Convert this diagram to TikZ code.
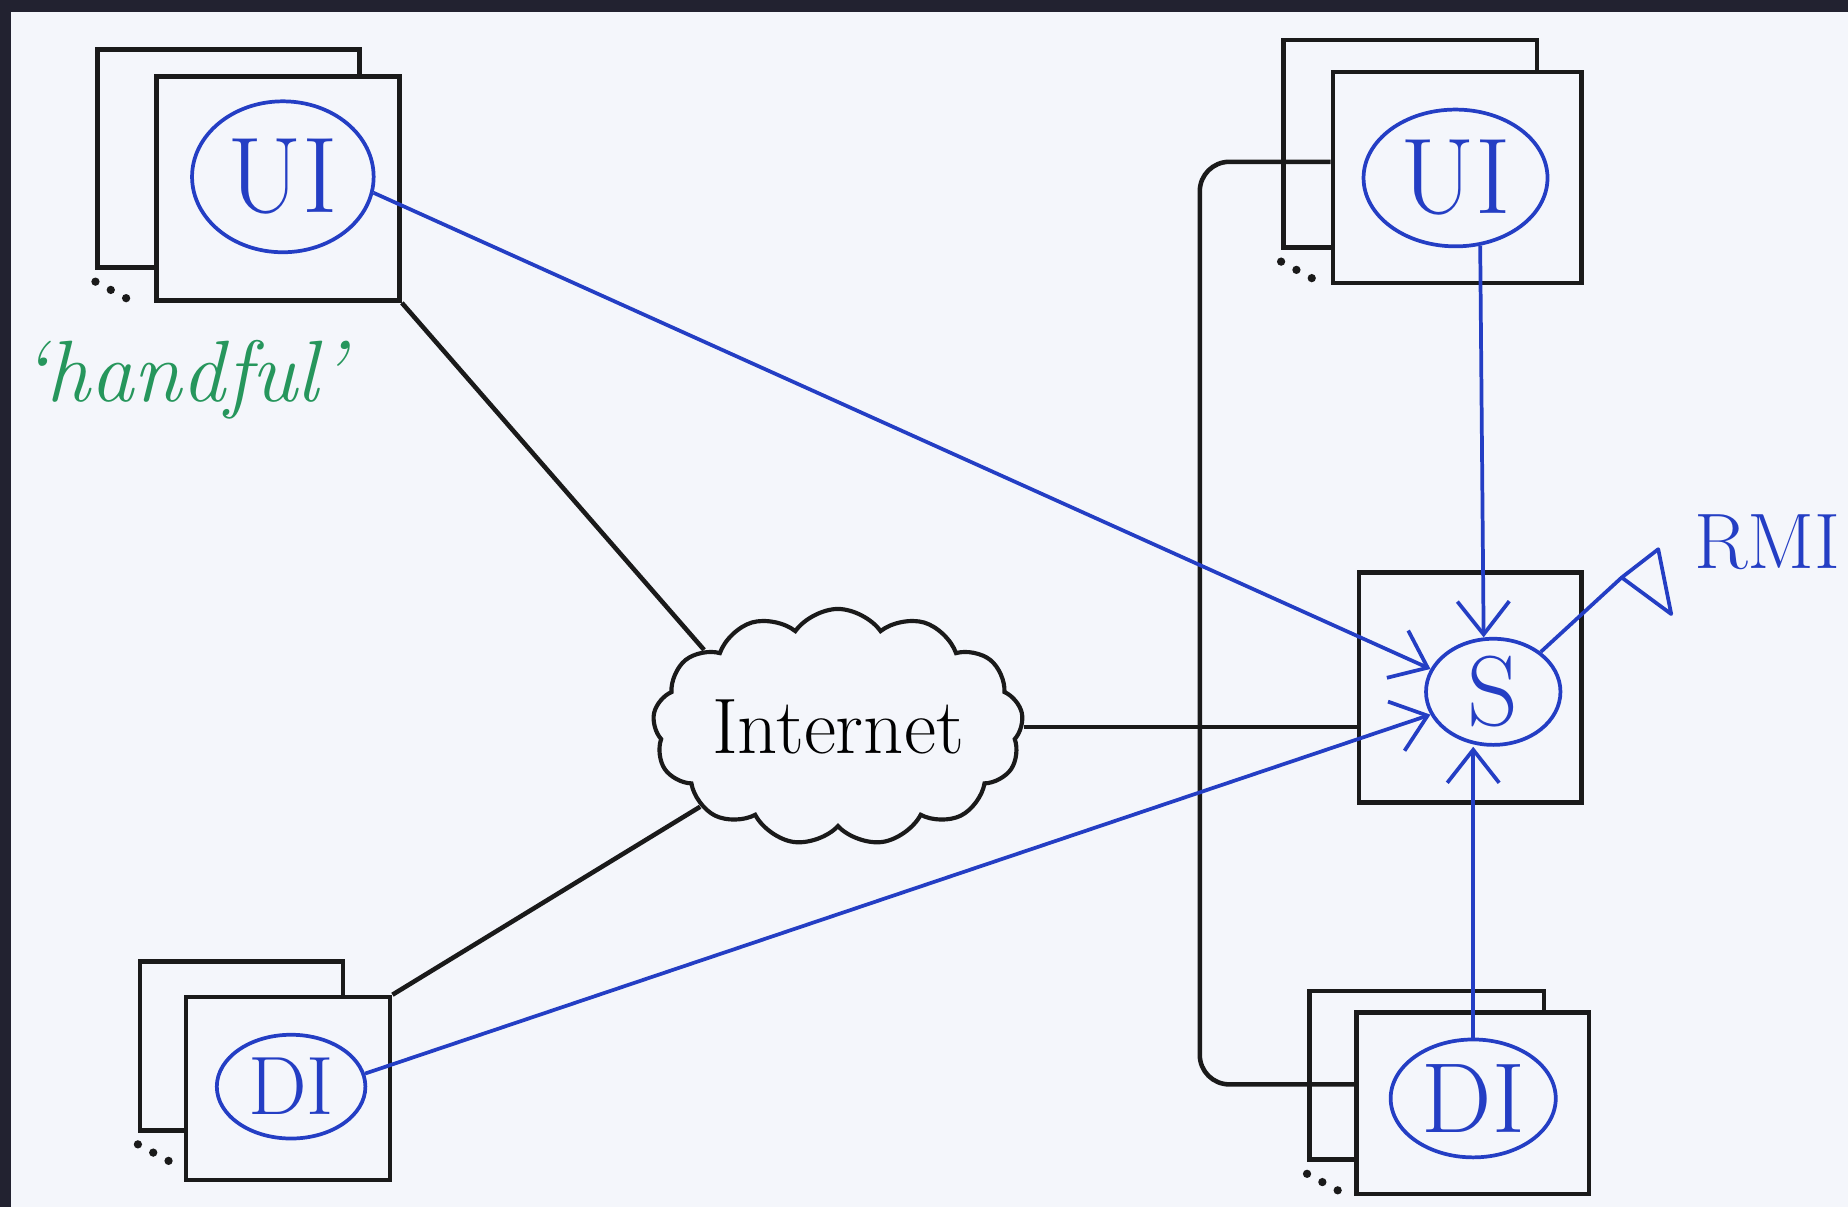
\documentclass[tikz,border=0pt]{standalone}
\usepackage{fontspec}
\usetikzlibrary{shapes.geometric,shapes.symbols,arrows.meta}
\definecolor{paper}{RGB}{244,246,251}
\definecolor{frame}{RGB}{34,34,48}
\definecolor{ink}{RGB}{26,26,26}
\definecolor{pen}{RGB}{36,62,196}
\definecolor{marker}{RGB}{38,150,92}
\begin{document}
\begin{tikzpicture}[x=0.01cm,y=-0.01cm,
  box/.style={draw=ink,line width=1.1pt,fill=paper,inner sep=0},
  proc/.style={ellipse,draw=pen,line width=0.9pt,text=pen,inner sep=0},
  wire/.style={draw=ink,line width=1.1pt},
  call/.style={draw=pen,line width=0.9pt,-{Straight Barb[length=2.8mm,width=4.4mm]}},
  big/.style={font=\fontsize{#1}{#1}\selectfont}]
\useasboundingbox (0,0) rectangle (1568,1024);
\fill[frame] (0,0) rectangle (1568,1024);
\fill[paper] (9,10) rectangle (1568,1024);

\node[box,minimum width=2.22cm,minimum height=1.85cm] (uiAback) at (194,134.5) {};
\node[box,minimum width=2.06cm,minimum height=1.90cm] (uiAbox) at (236,160) {};
\node[proc,big=26,minimum width=1.54cm,minimum height=1.28cm] (uiA) at (240,150) {UI};
\node[text=marker,font=\fontsize{21}{21}\selectfont\itshape] (hand) at (155,322) {`handful'};

\node[box,minimum width=2.15cm,minimum height=1.76cm] (uiBback) at (1196.5,122) {};
\node[box,minimum width=2.11cm,minimum height=1.79cm] (uiBbox) at (1236.5,150.5) {};
\node[proc,big=26,minimum width=1.56cm,minimum height=1.16cm] (uiB) at (1235,151) {UI};

\node[box,minimum width=1.72cm,minimum height=1.43cm] (diAback) at (205,887.5) {};
\node[box,minimum width=1.73cm,minimum height=1.55cm] (diAbox) at (244.5,923.5) {};
\node[proc,big=20,minimum width=1.26cm,minimum height=0.88cm] (diA) at (247,922) {DI};

\node[box,minimum width=1.99cm,minimum height=1.43cm] (diBback) at (1210.5,912.5) {};
\node[box,minimum width=1.97cm,minimum height=1.54cm] (diBbox) at (1249.5,936) {};
\node[proc,big=24,minimum width=1.40cm,minimum height=1.00cm] (diB) at (1250,932) {DI};

\node[box,minimum width=1.89cm,minimum height=1.95cm] (srvbox) at (1247.5,583.5) {};
\node[proc,big=24,minimum width=1.14cm,minimum height=0.90cm] (srv) at (1267,587) {S};

\node[cloud,cloud puffs=13,cloud puff arc=110,aspect=1.8,draw=ink,line width=1pt,
  minimum width=3.08cm,minimum height=1.69cm,inner sep=0,big=19] (net) at (711,617) {Internet};

\coordinate (rmi) at (1376,490);
\node[text=pen,big=19,anchor=west] (rmitext) at (1425,460) {RMI};

\foreach \b in {uiAback,uiBback,diAback,diBback}
  \foreach \i in {0,1,2}
    \fill[ink] ([shift={(13*\i,10+7*\i)}]\b.south west) circle[radius=1pt];

\coordinate (bus) at (1018,500);
\draw[wire,rounded corners=0.25cm] (uiBbox.173) -| (bus) |- (diBbox.171);
\draw[wire] (uiAbox.south east) -- (net.150);
\draw[wire] (diAbox.north east) -- (net.210);
\draw[wire] (net.east) -- (net.east -| srvbox.west);

\draw[call] (uiA.-10) -- (srv.160);
\draw[call] (diA.10) -- (srv.200);
\draw[call] (uiB.290) -- (srv.100);
\draw[call] (diB.north) -- (diB.north |- srv.south);
\draw[draw=pen,line width=0.9pt] (srv.40) -- (rmi);
\draw[draw=pen,line width=0.9pt,line join=round] (rmi) -- ++(31,-24) -- ++(11,55) -- cycle;
\end{tikzpicture}
\end{document}
